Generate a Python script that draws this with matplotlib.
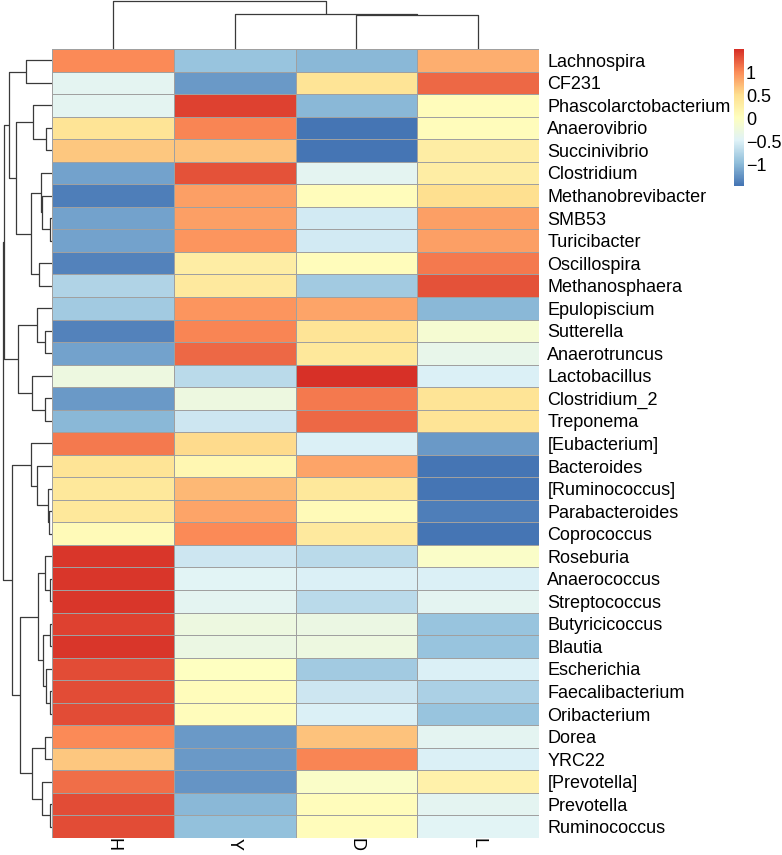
import numpy as np
import matplotlib
matplotlib.use("Agg")
import matplotlib.pyplot as plt
from matplotlib.colors import LinearSegmentedColormap

# ---------------- data ----------------
genera = ["Lachnospira", "CF231", "Phascolarctobacterium", "Anaerovibrio", "Succinivibrio",
          "Clostridium", "Methanobrevibacter", "SMB53", "Turicibacter", "Oscillospira",
          "Methanosphaera", "Epulopiscium", "Sutterella", "Anaerotruncus", "Lactobacillus",
          "Clostridium_2", "Treponema", "[Eubacterium]", "Bacteroides", "[Ruminococcus]",
          "Parabacteroides", "Coprococcus", "Roseburia", "Anaerococcus", "Streptococcus",
          "Butyricicoccus", "Blautia", "Escherichia", "Faecalibacterium", "Oribacterium",
          "Dorea", "YRC22", "[Prevotella]", "Prevotella", "Ruminococcus"]
samples = ["H", "Y", "D", "L"]

h_vals = [1.00, -0.40, -0.40, 0.45, 0.65, -1.15, -1.40, -1.15, -1.15, -1.35,
          -0.75, -0.85, -1.35, -1.15, -0.25, -1.20, -1.00, 1.10, 0.45, 0.40,
          0.40, 0.10, 1.45, 1.45, 1.45, 1.40, 1.45, 1.35, 1.35, 1.35,
          1.00, 0.65, 1.15, 1.35, 1.35]
y_vals = [-0.90, -1.20, 1.40, 1.05, 0.70, 1.30, 0.90, 0.90, 0.95, 0.30,
          0.35, 0.95, 1.05, 1.20, -0.70, -0.25, -0.60, 0.55, 0.15, 0.75,
          0.85, 1.00, -0.60, -0.45, -0.40, -0.25, -0.30, 0.00, 0.05, 0.05,
          -1.20, -1.20, -1.25, -1.00, -0.95]
d_vals = [-1.00, 0.45, -1.00, -1.45, -1.46, -0.40, 0.05, -0.55, -0.55, 0.05,
          -0.85, 0.85, 0.45, 0.40, 1.50, 1.10, 1.20, -0.50, 0.85, 0.40,
          0.10, 0.35, -0.70, -0.50, -0.70, -0.30, -0.25, -0.85, -0.60, -0.50,
          0.70, 1.05, -0.05, 0.05, 0.05]
l_vals = [0.80, 1.20, 0.05, 0.05, 0.30, 0.30, 0.50, 0.90, 0.90, 1.10,
          1.30, -1.00, -0.15, -0.35, -0.50, 0.45, 0.45, -1.20, -1.45, -1.45,
          -1.40, -1.45, -0.05, -0.50, -0.40, -0.90, -0.90, -0.50, -0.80, -0.90,
          -0.40, -0.50, 0.25, -0.40, -0.45]

# dendrograms: leaf = row/column index, node = (left, right, height)
row_tree = (
    (
        ((0, 1, 26.0),
         ((2, (3, 4, 6.0), 19.0),
          ((5, (6, (7, 8, 2.0), 10.3), 11.3), (9, 10, 13.0), 21.3), 36.0), 42.7),
        ((11, (12, 13, 7.0), 15.0), (14, (15, 16, 7.0), 20.3), 33.7),
        47.7),
    ((17, (18, (19, (20, 21, 3.0), 4.3), 14.7), 21.3),
     (((22, (23, 24, 2.0), 7.0), ((25, 26, 2.0), (27, (28, 29, 2.0), 6.3), 9.3), 13.7),
      ((30, 31, 7.0), (32, (33, 34, 2.0), 10.3), 20.3), 32.0),
     40.3),
    48.5)
col_tree = (0, (1, (2, 3, 33.7), 35.3), 47.7)

cbar_ticks = [-1, -0.5, 0, 0.5, 1]
cbar_labels = ["\u22121", "\u22120.5", "0", "0.5", "1"]

# ---------------- figure ----------------
plt.rcParams["font.family"] = ["Liberation Sans", "DejaVu Sans"]
W, H = 782, 855
fig = plt.figure(figsize=(W / 100, H / 100), dpi=100)

def box(x0, y0, x1, y1):
    return [x0 / W, 1 - y1 / H, (x1 - x0) / W, (y1 - y0) / H]

mat = np.array([h_vals, y_vals, d_vals, l_vals]).T
vmin, vmax = mat.min(), mat.max()
cmap = LinearSegmentedColormap.from_list(
    "rdylbu_r", ["#4575B4", "#91BFDB", "#E0F3F8", "#FFFFBF", "#FEE090", "#FC8D59", "#D73027"], N=100)

nrow, ncol = mat.shape
FS = 13

# heatmap
ax = fig.add_axes(box(52, 49, 539, 838))
ax.pcolormesh(np.arange(ncol + 1), np.arange(nrow + 1), mat, cmap=cmap, vmin=vmin, vmax=vmax,
              edgecolors="#A0A0A0", linewidth=0.6)
ax.set_xlim(0, ncol)
ax.set_ylim(nrow, 0)
for s in ax.spines.values():
    s.set_visible(False)
ax.yaxis.tick_right()
ax.set_yticks(np.arange(nrow) + 0.5)
ax.set_yticklabels(genera, fontsize=FS)
ax.set_xticks(np.arange(ncol) + 0.5)
ax.set_xticklabels(samples, fontsize=FS, rotation=270, va="top")
ax.tick_params(axis="both", length=0)
ax.tick_params(axis="y", pad=6)
ax.tick_params(axis="x", pad=0)

def draw_tree(a, node, orient):
    if isinstance(node, int):
        return node + 0.5, 0.0
    l, r, h = node
    p1, h1 = draw_tree(a, l, orient)
    p2, h2 = draw_tree(a, r, orient)
    if orient == "top":
        a.plot([p1, p1, p2, p2], [h1, h, h, h2], color="#3a3a3a", lw=0.9, solid_capstyle="butt")
    else:
        a.plot([h1, h, h, h2], [p1, p1, p2, p2], color="#3a3a3a", lw=0.9, solid_capstyle="butt")
    return (p1 + p2) / 2, h

# row dendrogram
axr = fig.add_axes(box(0, 49, 52, 838))
draw_tree(axr, row_tree, "left")
axr.set_ylim(nrow, 0)
axr.set_xlim(52, 0)
axr.axis("off")

# column dendrogram
axc = fig.add_axes(box(52, 0, 539, 49))
draw_tree(axc, col_tree, "top")
axc.set_xlim(0, ncol)
axc.set_ylim(0, 49)
axc.axis("off")

# colour legend
axl = fig.add_axes(box(734, 49, 743, 186))
grad = np.linspace(vmin, vmax, 100).reshape(-1, 1)
axl.imshow(grad, cmap=cmap, vmin=vmin, vmax=vmax, aspect="auto", origin="lower",
           extent=[0, 1, vmin, vmax])
axl.set_xlim(0, 1)
axl.set_ylim(vmin, vmax)
axl.set_xticks([])
axl.yaxis.tick_right()
axl.set_yticks(cbar_ticks)
axl.set_yticklabels(cbar_labels, fontsize=FS)
axl.tick_params(axis="y", length=0, pad=2)
for s in axl.spines.values():
    s.set_visible(False)

fig.savefig("out.png", dpi=100)
